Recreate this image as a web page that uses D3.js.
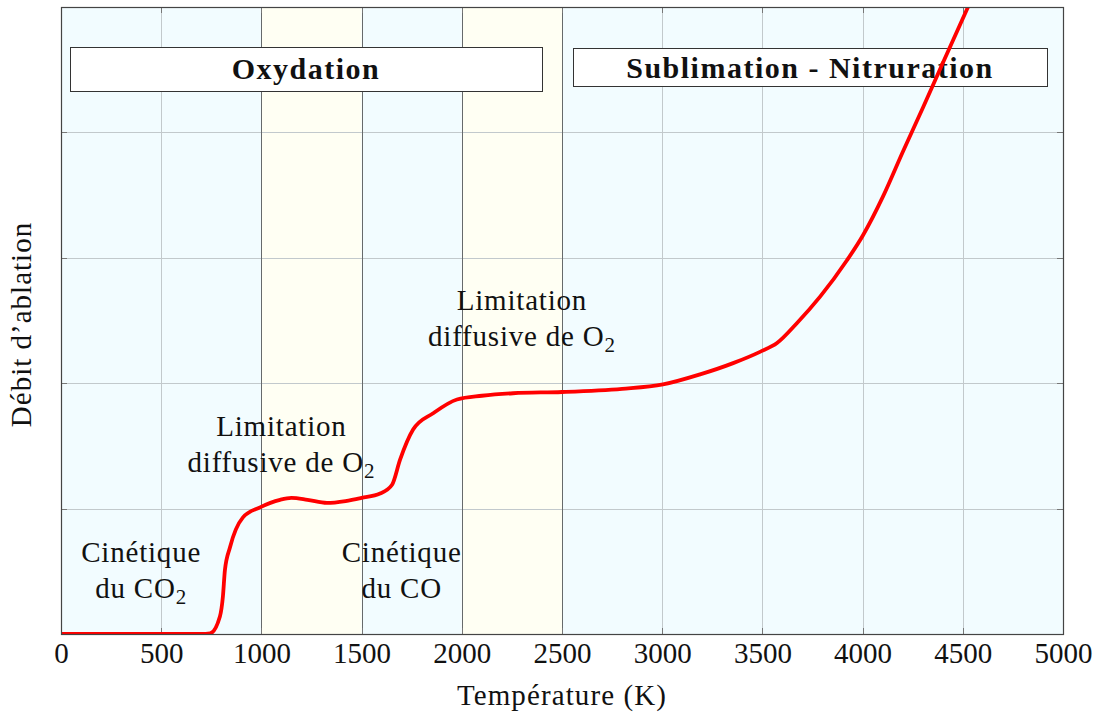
<!DOCTYPE html>
<html>
<head>
<meta charset="utf-8">
<script src="https://cdn.jsdelivr.net/npm/d3@7/dist/d3.min.js"></script>
<style>
  html, body { margin: 0; padding: 0; background: #fff; }
  svg text { font-family: "Liberation Serif", "DejaVu Serif", serif; fill: #111; }
</style>
</head>
<body>
<svg id="chart" width="1099" height="715"></svg>
<script>
// Ablation rate vs. temperature (arbitrary units on the y axis)
const temperature = [0, 700, 744, 793, 808, 818, 843, 908, 993, 1093, 1150, 1230, 1327, 1420, 1500, 1592, 1652, 1692, 1757, 1857, 1976, 2100, 2256, 2500, 2800, 3004, 3189, 3354, 3488, 3573, 3673, 3788, 3922, 4002, 4102, 4202, 4302, 4402, 4526];
const ablationRate = [0, 0, 0.005, 0.14, 0.30, 0.51, 0.69, 0.93, 1.01, 1.07, 1.085, 1.07, 1.045, 1.06, 1.085, 1.12, 1.19, 1.39, 1.63, 1.76, 1.87, 1.90, 1.92, 1.93, 1.955, 1.99, 2.07, 2.16, 2.25, 2.32, 2.48, 2.69, 2.98, 3.18, 3.49, 3.85, 4.20, 4.56, 5.0];

const xTicks = [0, 500, 1000, 1500, 2000, 2500, 3000, 3500, 4000, 4500, 5000];
const yTicks = [0, 1, 2, 3, 4, 5];

// Regime bands: [start, end, kind]
const bandStart = [0, 1000, 1500, 2000, 2500];
const bandEnd   = [1000, 1500, 2000, 2500, 5000];
const bandKind  = ["c", "y", "c", "y", "c"];
const bandEdges = [1000, 1500, 2000, 2500];

// Header boxes
const boxTitles = ["Oxydation", "Sublimation - Nitruration"];
const boxT0 = [45, 2555];
const boxT1 = [2400, 4920];
const boxV0 = [4.33, 4.365];
const boxV1 = [4.68, 4.67];

// Regime annotations (centre temperature, line-1 rate, text lines)
const notes = [
  { t: 400,  v: 0.575, lines: ["Cinétique", ["du CO", "2"]] },
  { t: 1100, v: 1.58,  lines: ["Limitation", ["diffusive de O", "2"]] },
  { t: 1700, v: 0.575, lines: ["Cinétique", ["du CO", ""]] },
  { t: 2300, v: 2.58,  lines: ["Limitation", ["diffusive de O", "2"]] }
];

const svg = d3.select("#chart");
const L = 61, R = 1063, T = 7, B = 634;

const x = d3.scaleLinear().domain([0, 5000]).range([L, R]);
const y = d3.scaleLinear().domain([0, 5]).range([B, T]);

// Background bands
svg.append("g").selectAll("rect").data(bandStart).join("rect")
  .attr("x", (d, i) => x(d))
  .attr("y", T)
  .attr("width", (d, i) => x(bandEnd[i]) - x(d))
  .attr("height", B - T)
  .attr("fill", (d, i) => bandKind[i] === "c" ? "#f2fcff" : "#fffff3");

// Grid
const grid = svg.append("g").attr("stroke", "#c2c9cc").attr("stroke-width", 1);
grid.selectAll("line.v").data(xTicks.slice(1, -1)).join("line")
  .attr("class", "v")
  .attr("x1", d => Math.round(x(d)) + 0.5).attr("x2", d => Math.round(x(d)) + 0.5)
  .attr("y1", T).attr("y2", B);
grid.selectAll("line.h").data(yTicks.slice(1, -1)).join("line")
  .attr("class", "h")
  .attr("x1", L).attr("x2", R)
  .attr("y1", d => Math.round(y(d)) + 0.5).attr("y2", d => Math.round(y(d)) + 0.5);

// Band edges
svg.append("g").selectAll("line").data(bandEdges).join("line")
  .attr("x1", d => Math.round(x(d)) + 0.5).attr("x2", d => Math.round(x(d)) + 0.5)
  .attr("y1", T).attr("y2", B)
  .attr("stroke", "#666a6b").attr("stroke-width", 1);

// Axes (ticks inside, no y labels)
const xAxis = d3.axisBottom(x).tickValues(xTicks).tickSize(0).tickPadding(0).tickFormat(d3.format("d"));
const gx = svg.append("g").attr("transform", `translate(0,${B})`).call(xAxis);
gx.select(".domain").remove();
gx.selectAll("text").attr("dy", null).attr("y", 29)
  .style("font-size", "29px").style("font-family", "'Liberation Serif', serif").attr("fill", "#111");

const tickCol = "#777";
const ticks = svg.append("g").attr("stroke", tickCol).attr("stroke-width", 1);
xTicks.slice(1, -1).forEach(d => {
  const px = Math.round(x(d)) + 0.5;
  ticks.append("line").attr("x1", px).attr("x2", px).attr("y1", B).attr("y2", B - 6);
  ticks.append("line").attr("x1", px).attr("x2", px).attr("y1", T).attr("y2", T + 6);
});
yTicks.slice(1, -1).forEach(d => {
  const py = Math.round(y(d)) + 0.5;
  ticks.append("line").attr("x1", L).attr("x2", L + 6).attr("y1", py).attr("y2", py);
  ticks.append("line").attr("x1", R).attr("x2", R - 6).attr("y1", py).attr("y2", py);
});

// Header boxes
const boxes = svg.append("g");
boxTitles.forEach((title, i) => {
  const x0 = x(boxT0[i]), x1 = x(boxT1[i]);
  const y0 = y(boxV1[i]), y1 = y(boxV0[i]);
  boxes.append("rect")
    .attr("x", Math.round(x0) + 0.5).attr("y", Math.round(y0) + 0.5)
    .attr("width", Math.round(x1 - x0)).attr("height", Math.round(y1 - y0))
    .attr("fill", "#fff").attr("stroke", "#333").attr("stroke-width", 1);
  boxes.append("text")
    .attr("x", (x0 + x1) / 2).attr("y", (y0 + y1) / 2 + 10)
    .attr("text-anchor", "middle")
    .style("font-size", "30px").style("font-weight", "bold").style("letter-spacing", "1.5px")
    .text(title);
});

// Curve, clipped to the plot frame
svg.append("clipPath").attr("id", "plotClip")
  .append("rect").attr("x", L).attr("y", T).attr("width", R - L).attr("height", B - T);

const line = d3.line()
  .x((d, i) => x(temperature[i]))
  .y((d, i) => y(ablationRate[i]))
  .curve(d3.curveMonotoneX);

svg.append("path")
  .datum(temperature)
  .attr("clip-path", "url(#plotClip)")
  .attr("d", line)
  .attr("fill", "none")
  .attr("stroke", "#ff0000")
  .attr("stroke-width", 3.8)
  .attr("stroke-linejoin", "round");

// Regime annotations
const ann = svg.append("g").style("font-size", "29px").attr("text-anchor", "middle");
notes.forEach(n => {
  const cx = x(n.t), by = y(n.v);
  ann.append("text").attr("x", cx).attr("y", by).style("letter-spacing", "0.8px").text(n.lines[0]);
  const t2 = ann.append("text").attr("x", cx).attr("y", by + 36).style("letter-spacing", "0.8px");
  t2.append("tspan").text(n.lines[1][0]);
  if (n.lines[1][1]) {
    t2.append("tspan").attr("dy", 6).style("font-size", "21px").text(n.lines[1][1]);
  }
});

// Frame
svg.append("rect")
  .attr("x", L + 0.5).attr("y", T + 0.5)
  .attr("width", R - L).attr("height", B - T)
  .attr("fill", "none").attr("stroke", "#444").attr("stroke-width", 1.2);

// Axis titles
svg.append("text")
  .attr("x", x(2500)).attr("y", 705)
  .attr("text-anchor", "middle")
  .style("font-size", "29px").style("letter-spacing", "1.1px")
  .text("Température (K)");

svg.append("text")
  .attr("transform", `translate(31,${(T + B) / 2 + 4}) rotate(-90)`)
  .attr("text-anchor", "middle")
  .style("font-size", "29px").style("letter-spacing", "1px")
  .text("Débit d’ablation");
</script>
</body>
</html>
